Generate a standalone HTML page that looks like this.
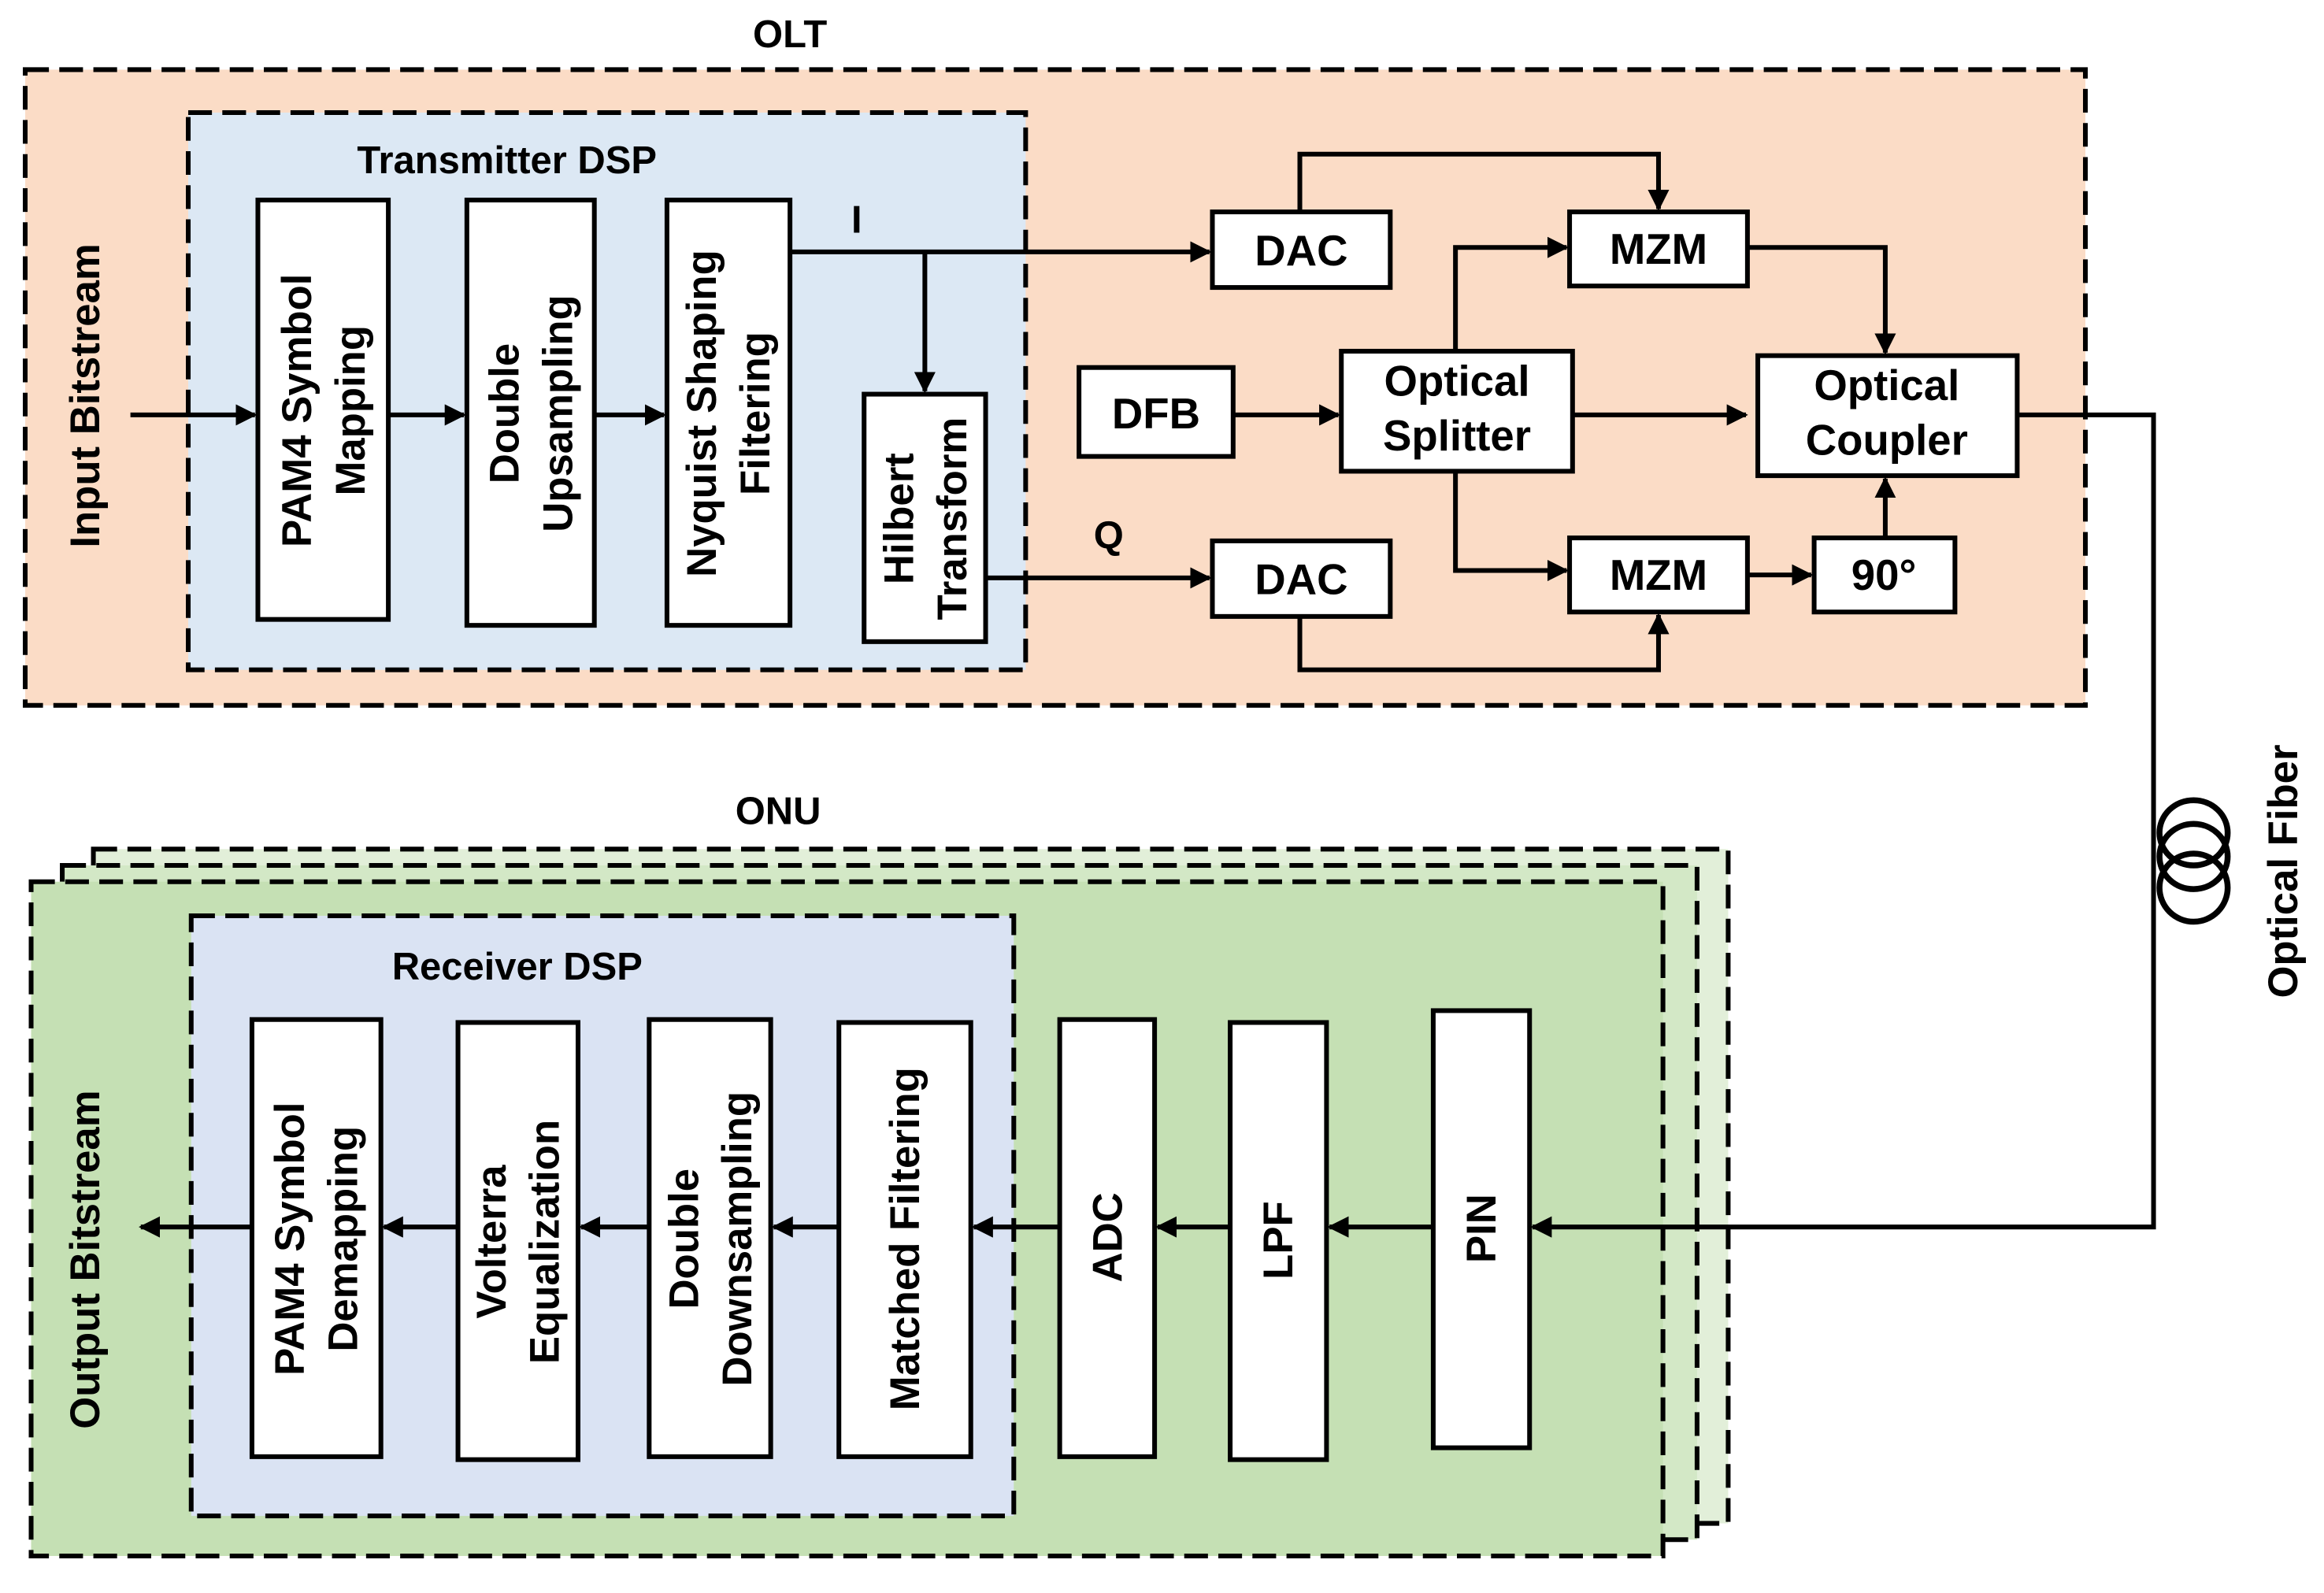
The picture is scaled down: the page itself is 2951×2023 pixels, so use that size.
<!DOCTYPE html>
<html><head><style>html,body{margin:0;padding:0;background:#fff}svg{display:block}
text{font-family:"Liberation Sans",sans-serif;font-weight:bold;fill:#000}</style></head>
<body>
<svg width="2951" height="2023" viewBox="0 0 1568 1075" preserveAspectRatio="none" xmlns="http://www.w3.org/2000/svg">
<defs><marker id="a" viewBox="0 0 10 10" refX="9" refY="5" markerWidth="4.5" markerHeight="4.5" orient="auto" markerUnits="strokeWidth"><path d="M0,0L10,5L0,10z" fill="#000"/></marker></defs>
<g stroke="#000" stroke-width="3.2" stroke-dasharray="16,7">
<rect x="17" y="47" width="1390" height="429" fill="#fbdcc6"/>
<rect x="127" y="76" width="565" height="376" fill="#dce8f4"/>
<rect x="63" y="573" width="1103" height="455" fill="#e2efd9"/>
<rect x="42" y="584" width="1103" height="455" fill="#d3e8c6"/>
<rect x="21" y="595" width="1101" height="455" fill="#c5e0b4"/>
<rect x="129" y="618" width="555" height="405" fill="#dae3f3"/>
</g>
<g fill="#fff" stroke="#000" stroke-width="3.2">
<rect x="174" y="135" width="88" height="283"/>
<rect x="315" y="135" width="86" height="287"/>
<rect x="450" y="135" width="83" height="287"/>
<rect x="583" y="266" width="82" height="167"/>
<rect x="818" y="143" width="120" height="51"/>
<rect x="818" y="365" width="120" height="51"/>
<rect x="1059" y="143" width="120" height="50"/>
<rect x="1059" y="363" width="120" height="50"/>
<rect x="728" y="248" width="104" height="60"/>
<rect x="905" y="237" width="156" height="81"/>
<rect x="1186" y="240" width="175" height="81"/>
<rect x="1224" y="363" width="95" height="50"/>
<rect x="170" y="688" width="87" height="295"/>
<rect x="309" y="690" width="81" height="295"/>
<rect x="438" y="688" width="82" height="295"/>
<rect x="566" y="690" width="89" height="293"/>
<rect x="715" y="688" width="64" height="295"/>
<rect x="830" y="690" width="65" height="295"/>
<rect x="967" y="682" width="65" height="295"/>
</g>
<g stroke="#000" stroke-width="3.2" fill="none" marker-end="url(#a)">
<path d="M88 280H172"/><path d="M262 280H313"/><path d="M401 280H448"/>
<path d="M533 170H816"/><path d="M624 170V264"/><path d="M665 390H816"/>
<path d="M877 143V104H1119V141"/><path d="M982 237V167H1057"/><path d="M1061 280H1178"/>
<path d="M982 318V385H1057"/><path d="M877 416V452H1119V415"/>
<path d="M1179 167H1272V238"/><path d="M1179 388H1222"/><path d="M1272 363V323"/>
<path d="M832 280H903"/>
<path d="M1361 280H1453V828H1034"/>
<path d="M967 828H897"/><path d="M830 828H781"/><path d="M715 828H657"/>
<path d="M566 828H522"/><path d="M438 828H392"/><path d="M309 828H259"/><path d="M170 828H95"/>
</g>
<g stroke="#000" stroke-width="4" fill="none">
<ellipse cx="1480" cy="562" rx="23" ry="22"/>
<ellipse cx="1480" cy="578" rx="23" ry="22"/>
<ellipse cx="1480" cy="599" rx="23" ry="23"/>
</g>
<g font-size="29" text-anchor="middle">
<text x="533" y="32" font-size="26">OLT</text>
<text x="525" y="556" font-size="26">ONU</text>
<text x="342" y="117" font-size="26">Transmitter DSP</text>
<text x="349" y="661" font-size="26">Receiver DSP</text>
<text x="578" y="157" font-size="26">I</text>
<text x="748" y="370" font-size="26">Q</text>
<text x="878" y="179">DAC</text><text x="878" y="401">DAC</text>
<text x="1119" y="178">MZM</text><text x="1119" y="398">MZM</text>
<text x="780" y="289">DFB</text>
<text x="983" y="267">Optical</text><text x="983" y="304">Splitter</text>
<text x="1273" y="270">Optical</text><text x="1273" y="307">Coupler</text>
<text x="1271" y="398">90°</text>
<g font-size="28">
<text transform="translate(57,267) rotate(-90)" y="10">Input Bitstream</text>
<text transform="translate(57,850) rotate(-90)" y="10">Output Bitstream</text>
<text transform="translate(1540,588) rotate(-90)" y="10">Optical Fiber</text>
<text transform="translate(218,277) rotate(-90)"><tspan x="0" y="-8">PAM4 Symbol</tspan><tspan x="0" y="28">Mapping</tspan></text>
<text transform="translate(358,279) rotate(-90)"><tspan x="0" y="-8">Double</tspan><tspan x="0" y="28">Upsampling</tspan></text>
<text transform="translate(491,279) rotate(-90)"><tspan x="0" y="-8">Nyquist Shaping</tspan><tspan x="0" y="28">Filtering</tspan></text>
<text transform="translate(624,350) rotate(-90)"><tspan x="0" y="-8">Hilbert</tspan><tspan x="0" y="28">Transform</tspan></text>
<text transform="translate(213,836) rotate(-90)"><tspan x="0" y="-8">PAM4 Symbol</tspan><tspan x="0" y="28">Demapping</tspan></text>
<text transform="translate(349,838) rotate(-90)"><tspan x="0" y="-8">Volterra</tspan><tspan x="0" y="28">Equalization</tspan></text>
<text transform="translate(479,836) rotate(-90)"><tspan x="0" y="-8">Double</tspan><tspan x="0" y="28">Downsampling</tspan></text>
<text transform="translate(610,836) rotate(-90)" y="10">Matched Filtering</text>
<text transform="translate(747,835) rotate(-90)" y="10">ADC</text>
<text transform="translate(862,837) rotate(-90)" y="10">LPF</text>
<text transform="translate(999,829) rotate(-90)" y="10">PIN</text>
</g></g>
</svg>
</body></html>
